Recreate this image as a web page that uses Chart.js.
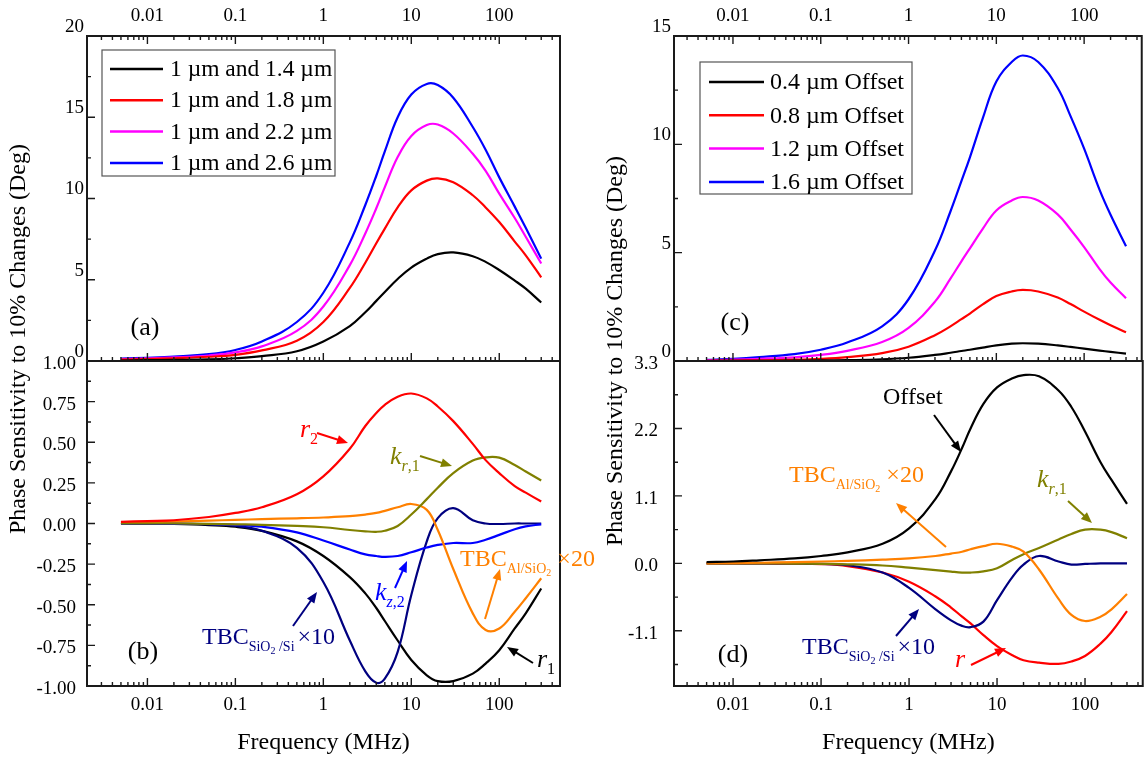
<!DOCTYPE html>
<html>
<head>
<meta charset="utf-8">
<script src="https://cdn.jsdelivr.net/npm/chart.js@4.4.1/dist/chart.umd.min.js"></script>
<style>
  body { margin: 0; background: #fff; }
  #wrap { position: relative; width: 1146px; height: 761px; overflow: hidden; }
  canvas { position: absolute; top: 0; }
</style>
</head>
<body>
<div id="wrap">
  <canvas id="ca" width="598" height="761" style="left:0"></canvas>
  <canvas id="cb" width="598" height="761" style="left:0"></canvas>
  <canvas id="cc" width="548" height="761" style="left:598px"></canvas>
  <canvas id="cd" width="548" height="761" style="left:598px"></canvas>
</div>
<script>
// frequency grid (MHz), shared by every curve
const freq = [0.005, 0.01, 0.02, 0.05, 0.1, 0.2, 0.5, 1, 2, 3, 4, 5, 7, 10, 15, 20, 30, 50, 70, 100, 150, 200, 300];

// (a) sensitivity for two radii
const labelsA = ['1 \u00b5m and 1.4 \u00b5m', '1 \u00b5m and 1.8 \u00b5m', '1 \u00b5m and 2.2 \u00b5m', '1 \u00b5m and 2.6 \u00b5m'];
const a14 = [0.03, 0.05, 0.07, 0.1, 0.17, 0.3, 0.6, 1.2, 2.15, 3.0, 3.7, 4.25, 5.05, 5.75, 6.3, 6.58, 6.68, 6.45, 6.1, 5.6, 4.95, 4.45, 3.6];
const a18 = [0.08, 0.12, 0.17, 0.26, 0.38, 0.65, 1.25, 2.4, 4.5, 6.05, 7.25, 8.15, 9.45, 10.5, 11.1, 11.24, 11.0, 10.2, 9.45, 8.55, 7.35, 6.5, 5.15];
const a22 = [0.12, 0.16, 0.22, 0.34, 0.53, 0.9, 1.85, 3.35, 5.9, 7.85, 9.4, 10.7, 12.55, 13.85, 14.52, 14.55, 14.0, 12.75, 11.7, 10.3, 8.8, 7.65, 6.0];
const a26 = [0.15, 0.2, 0.27, 0.42, 0.68, 1.2, 2.4, 4.2, 7.3, 9.6, 11.4, 12.9, 15.0, 16.4, 17.05, 16.98, 16.2, 14.4, 13.0, 11.3, 9.5, 8.2, 6.3];

// (b) sensitivity to each parameter
const b_r2 = [0.01, 0.015, 0.02, 0.04, 0.065, 0.1, 0.18, 0.29, 0.46, 0.6, 0.68, 0.73, 0.78, 0.8, 0.77, 0.72, 0.63, 0.49, 0.39, 0.31, 0.23, 0.19, 0.135];
const b_kr1 = [0, 0, 0, -0.002, -0.005, -0.008, -0.015, -0.023, -0.04, -0.048, -0.051, -0.045, -0.015, 0.055, 0.15, 0.22, 0.31, 0.387, 0.407, 0.405, 0.36, 0.32, 0.265];
const b_tbcAl = [0.005, 0.008, 0.012, 0.018, 0.022, 0.027, 0.032, 0.037, 0.045, 0.055, 0.065, 0.078, 0.1, 0.12, 0.084, -0.04, -0.28, -0.553, -0.655, -0.646, -0.543, -0.46, -0.337];
const b_kz2 = [0, 0, -0.001, -0.003, -0.008, -0.02, -0.055, -0.105, -0.16, -0.19, -0.2, -0.205, -0.2, -0.177, -0.148, -0.132, -0.12, -0.12, -0.1, -0.07, -0.035, -0.018, -0.005];
const b_tbcSi = [0, 0, -0.001, -0.005, -0.015, -0.045, -0.15, -0.36, -0.72, -0.91, -0.98, -0.955, -0.79, -0.44, -0.11, 0.033, 0.095, 0.02, 0, -0.003, 0, 0, 0];
const b_r1 = [0, -0.001, -0.003, -0.01, -0.02, -0.045, -0.11, -0.2, -0.33, -0.43, -0.52, -0.6, -0.72, -0.84, -0.934, -0.97, -0.97, -0.924, -0.862, -0.78, -0.646, -0.553, -0.4];

// (c) sensitivity for several offsets
const labelsC = ['0.4 \u00b5m Offset', '0.8 \u00b5m Offset', '1.2 \u00b5m Offset', '1.6 \u00b5m Offset'];
const c04 = [0, 0.005, 0.01, 0.015, 0.025, 0.04, 0.08, 0.15, 0.28, 0.38, 0.46, 0.52, 0.62, 0.72, 0.8, 0.82, 0.8, 0.72, 0.65, 0.57, 0.48, 0.42, 0.34];
const c08 = [0.01, 0.02, 0.035, 0.06, 0.1, 0.18, 0.36, 0.66, 1.19, 1.6, 1.93, 2.19, 2.61, 3.0, 3.21, 3.28, 3.21, 2.93, 2.63, 2.28, 1.9, 1.65, 1.33];
const c12 = [0.03, 0.06, 0.1, 0.17, 0.28, 0.47, 0.88, 1.53, 2.74, 3.8, 4.6, 5.2, 6.1, 6.95, 7.41, 7.57, 7.41, 6.77, 6.07, 5.26, 4.24, 3.62, 2.9];
const c16 = [0.05, 0.1, 0.18, 0.32, 0.52, 0.85, 1.6, 2.85, 5.1, 6.9, 8.3, 9.4, 11.2, 12.9, 13.8, 14.1, 13.8, 12.6, 11.3, 9.8, 7.9, 6.75, 5.3];

// (d) sensitivity to each parameter, offset case
const d_offset = [0.02, 0.03, 0.05, 0.08, 0.12, 0.18, 0.32, 0.57, 1.05, 1.5, 1.88, 2.2, 2.6, 2.87, 3.02, 3.07, 3.05, 2.82, 2.55, 2.15, 1.65, 1.36, 0.97];
const d_tbcAl = [0, 0.005, 0.01, 0.02, 0.03, 0.04, 0.06, 0.08, 0.12, 0.16, 0.19, 0.23, 0.28, 0.32, 0.27, 0.19, -0.1, -0.58, -0.84, -0.94, -0.87, -0.75, -0.5];
const d_kr1 = [0, 0, 0, -0.003, -0.008, -0.015, -0.035, -0.07, -0.11, -0.135, -0.15, -0.15, -0.13, -0.08, 0.06, 0.15, 0.25, 0.39, 0.48, 0.55, 0.55, 0.51, 0.41];
const d_tbcSi = [0, 0, 0, -0.002, -0.01, -0.03, -0.15, -0.4, -0.75, -0.93, -1.02, -1.04, -0.95, -0.6, -0.22, -0.02, 0.12, 0.03, -0.02, -0.01, 0, 0, 0];
const d_r = [0, 0, -0.002, -0.005, -0.012, -0.045, -0.15, -0.3, -0.54, -0.72, -0.87, -0.98, -1.17, -1.35, -1.5, -1.58, -1.62, -1.64, -1.6, -1.51, -1.31, -1.12, -0.78];

// tick values and labels
const freqTicks = [0.01, 0.1, 1, 10, 100];
const freqTickLabels = ['0.01', '0.1', '1', '10', '100'];
const yTicksA = [0, 5, 10, 15, 20];
const yLabelsA = ['0', '5', '10', '15', '20'];
const yTicksB = [-1, -0.75, -0.5, -0.25, 0, 0.25, 0.5, 0.75, 1];
const yLabelsB = ['-1.00', '-0.75', '-0.50', '-0.25', '0.00', '0.25', '0.50', '0.75', '1.00'];
const yTicksC = [0, 5, 10, 15];
const yLabelsC = ['0', '5', '10', '15'];
const yTicksD = [-1.1, 0, 1.1, 2.2, 3.3];
const yLabelsD = ['-1.1', '0.0', '1.1', '2.2', '3.3'];

const yTitle = 'Phase Sensitivity to 10% Changes (Deg)';
const xTitle = 'Frequency (MHz)';

const SERIF = '"Liberation Serif", "Times New Roman", serif';
Chart.defaults.font.family = SERIF;
Chart.defaults.font.size = 19;
Chart.defaults.color = '#000';

const OLIVE = '#808000', ORANGE = '#ff8000', NAVY = '#000080';

function setTicks(scale, majors, labels, minors) {
  const t = majors.map((v, i) => ({ value: v, major: true, lbl: labels[i] }))
    .concat(minors.map(v => ({ value: v, major: false, lbl: '' })));
  t.sort((p, q) => p.value - q.value);
  scale.ticks = t;
}

function logMinors(min, max) {
  const out = [];
  for (let d = Math.floor(Math.log10(min)); d <= Math.ceil(Math.log10(max)); d++) {
    for (let k = 2; k <= 9; k++) {
      const v = k * Math.pow(10, d);
      if (v >= min && v <= max) out.push(v);
    }
  }
  return out;
}

function xScale(pos, min, max, h) {
  const majors = freqTicks.filter(v => v >= min && v <= max);
  return {
    type: 'logarithmic', position: pos, min: min, max: max, bounds: 'data',
    grid: { display: false, drawTicks: false }, border: { display: false },
    ticks: { autoSkip: false, maxRotation: 0, minRotation: 0, padding: pos === 'top' ? 9 : 8,
      callback: (v, i, t) => t[i].lbl },
    title: pos === 'bottom' ? { display: true, text: xTitle, font: { size: 24 }, padding: { top: 0, bottom: 4 } } : { display: false },
    afterBuildTicks: s => setTicks(s, majors, majors.map(v => freqTickLabels[freqTicks.indexOf(v)]), logMinors(min, max)),
    afterFit: s => { s.height = h; }
  };
}

function yScale(min, max, majors, labels, pad, off) {
  const step = majors[1] - majors[0];
  const minors = [];
  majors.forEach(m => [m - step / 2, m + step / 2].forEach(v => {
    if (v >= min - 1e-9 && v <= max + 1e-9 && !minors.some(u => Math.abs(u - v) < 1e-9)) minors.push(v);
  }));
  return {
    type: 'linear', position: 'left', min: min, max: max, bounds: 'data',
    grid: { display: false, drawTicks: false }, border: { display: false },
    ticks: { autoSkip: false, padding: pad, labelOffset: off, callback: (v, i, t) => t[i].lbl },
    afterBuildTicks: s => setTicks(s, majors, labels, minors),
    afterFit: s => { s.width = 60; }
  };
}

// frame and inward ticks
const frame = {
  id: 'frame',
  afterDatasetsDraw(chart, args, o) {
    const { ctx, chartArea: a } = chart;
    const x = chart.scales.x, y = chart.scales.y;
    ctx.save();
    ctx.strokeStyle = '#1a1a1a';
    ctx.lineWidth = 1.4;
    ctx.beginPath();
    x.ticks.forEach(t => {
      const px = x.getPixelForValue(t.value);
      const len = t.major ? 8 : 4;
      if (o.xTop) { ctx.moveTo(px, a.top); ctx.lineTo(px, a.top + len); }
      ctx.moveTo(px, a.bottom); ctx.lineTo(px, a.bottom - len);
    });
    y.ticks.forEach(t => {
      const py = y.getPixelForValue(t.value);
      const len = t.major ? 8 : 4;
      ctx.moveTo(a.left, py); ctx.lineTo(a.left + len, py);
    });
    ctx.stroke();
    ctx.lineWidth = 2;
    ctx.strokeRect(a.left, a.top, a.right - a.left, a.bottom - a.top);
    ctx.restore();
  }
};

function arrow(ctx, x0, y0, x1, y1, color) {
  const ang = Math.atan2(y1 - y0, x1 - x0), hl = 11, hw = 4.5;
  const bx = x1 - hl * Math.cos(ang), by = y1 - hl * Math.sin(ang);
  ctx.strokeStyle = color; ctx.fillStyle = color; ctx.lineWidth = 2;
  ctx.beginPath(); ctx.moveTo(x0, y0); ctx.lineTo(bx + 3 * Math.cos(ang), by + 3 * Math.sin(ang)); ctx.stroke();
  ctx.beginPath(); ctx.moveTo(x1, y1);
  ctx.lineTo(bx + hw * Math.sin(ang), by - hw * Math.cos(ang));
  ctx.lineTo(bx - hw * Math.sin(ang), by + hw * Math.cos(ang));
  ctx.closePath(); ctx.fill();
}

function runs(ctx, x, y, list, color) {
  let cx = x;
  ctx.fillStyle = color;
  ctx.textBaseline = 'middle';
  ctx.textAlign = 'left';
  list.forEach(r => {
    ctx.font = (r.i ? 'italic ' : '') + r.s + 'px ' + SERIF;
    cx += r.dx || 0;
    ctx.fillText(r.t, cx, y + (r.dy || 0));
    cx += ctx.measureText(r.t).width;
  });
}
const it = (t, s, dy) => ({ t: t, s: s, dy: dy || 0, i: true });
const up = (t, s, dy, dx) => ({ t: t, s: s, dy: dy || 0, dx: dx || 0 });

// panel letters, annotations, legends, y title (page coordinates)
const notes = {
  id: 'notes',
  afterDraw(chart, args, o) {
    const ctx = chart.ctx, ox = o.offX;
    ctx.save();
    ctx.translate(-ox, 0);
    ctx.fillStyle = '#000';
    ctx.font = '26px ' + SERIF;
    ctx.textAlign = 'center'; ctx.textBaseline = 'middle';
    ctx.fillText(o.panel.t, o.panel.x, o.panel.y);
    (o.items || []).forEach(n => {
      runs(ctx, n.x, n.y, n.runs, n.color);
      if (n.arrow) arrow(ctx, n.arrow[0], n.arrow[1], n.arrow[2], n.arrow[3], n.color);
    });
    if (o.legend) {
      const L = o.legend;
      ctx.strokeStyle = '#555'; ctx.lineWidth = 1.2;
      ctx.strokeRect(L.x, L.y, L.w, L.h);
      chart.data.datasets.forEach((d, i) => {
        const cy = L.y0 + i * L.dy;
        ctx.strokeStyle = d.borderColor; ctx.lineWidth = 2.5;
        ctx.beginPath(); ctx.moveTo(L.lx0, cy); ctx.lineTo(L.lx1, cy); ctx.stroke();
        ctx.fillStyle = '#000'; ctx.font = L.size + 'px ' + SERIF;
        ctx.textAlign = 'left'; ctx.textBaseline = 'middle';
        ctx.fillText(d.label, L.tx, cy + 1);
      });
    }
    if (o.yTitle) {
      ctx.save();
      ctx.translate(o.yTitle.x, o.yTitle.y);
      ctx.rotate(-Math.PI / 2);
      ctx.fillStyle = '#000'; ctx.font = '24px ' + SERIF;
      ctx.textAlign = 'center'; ctx.textBaseline = 'middle';
      ctx.fillText(yTitle, 0, 0);
      ctx.restore();
    }
    ctx.restore();
  }
};

function panel(id, series, scales, pad, frameOpt, noteOpt) {
  return new Chart(document.getElementById(id), {
    type: 'line',
    data: {
      datasets: series.map(s => ({
        label: s.label,
        data: freq.map((f, i) => ({ x: f, y: s.data[i] })),
        borderColor: s.color, borderWidth: 2.2, pointRadius: 0, fill: false,
        tension: 0.4
      }))
    },
    options: {
      responsive: false, animation: false, devicePixelRatio: 1,
      layout: { padding: pad },
      plugins: { legend: { display: false }, tooltip: { enabled: false }, frame: frameOpt, notes: noteOpt },
      scales: scales
    },
    plugins: [frame, notes]
  });
}

const LX = [0.002056, 490.5], RX = [0.00213, 453];

// (a)
panel('ca', [
  { label: labelsA[0], data: a14, color: '#000000' },
  { label: labelsA[1], data: a18, color: '#ff0000' },
  { label: labelsA[2], data: a22, color: '#ff00ff' },
  { label: labelsA[3], data: a26, color: '#0000ff' }
], { x: xScale('top', LX[0], LX[1], 36), y: yScale(0, 20, yTicksA, yLabelsA, 3, -9) },
  { left: 27, right: 38, top: 0, bottom: 400 }, { xTop: true },
  { offX: 0, panel: { t: '(a)', x: 145, y: 328 },
    legend: { x: 102, y: 50, w: 233, h: 126, y0: 69, dy: 31.3, lx0: 110, lx1: 163, tx: 170, size: 23.5 } });

// (b)
panel('cb', [
  { label: 'r2', data: b_r2, color: '#ff0000' },
  { label: 'kr1', data: b_kr1, color: OLIVE },
  { label: 'TBC Al/SiO2 x20', data: b_tbcAl, color: ORANGE },
  { label: 'kz2', data: b_kz2, color: '#0000ff' },
  { label: 'TBC SiO2/Si x10', data: b_tbcSi, color: NAVY },
  { label: 'r1', data: b_r1, color: '#000000' }
], { x: xScale('bottom', LX[0], LX[1], 75), y: yScale(-1, 1, yTicksB, yLabelsB, 11, 3) },
  { left: 27, right: 38, top: 361, bottom: 0 }, { xTop: false },
  { offX: 0, panel: { t: '(b)', x: 143, y: 652 }, yTitle: { x: 19, y: 339 },
    items: [
      { x: 300, y: 430, color: '#ff0000', runs: [it('r', 26), up('2', 16, 10)], arrow: [317, 433, 348, 443] },
      { x: 390, y: 457, color: OLIVE, runs: [it('k', 26), it('r', 16, 10), up(',1', 16, 10)], arrow: [420, 456, 452, 466] },
      { x: 375, y: 593, color: '#0000ff', runs: [it('k', 26), it('z', 16, 10), up(',2', 16, 10)], arrow: [395, 588, 407, 561] },
      { x: 460, y: 560, color: ORANGE, runs: [up('TBC', 24), up('Al/SiO', 14, 9), up('2', 10, 13), up(' \u00d720', 24)], arrow: [485, 619, 500, 569] },
      { x: 202, y: 638, color: NAVY, runs: [up('TBC', 24), up('SiO', 14, 9), up('2', 10, 13), up(' /Si', 14, 9), up('\u00d710', 24, 0, 3)], arrow: [293, 626, 317, 592] },
      { x: 537, y: 660, color: '#000000', runs: [it('r', 26), up('1', 16, 10)], arrow: [533, 663, 507, 647] }
    ] });

// (c)
panel('cc', [
  { label: labelsC[0], data: c04, color: '#000000' },
  { label: labelsC[1], data: c08, color: '#ff0000' },
  { label: labelsC[2], data: c12, color: '#ff00ff' },
  { label: labelsC[3], data: c16, color: '#0000ff' }
], { x: xScale('top', RX[0], RX[1], 36), y: yScale(0, 15, yTicksC, yLabelsC, 3, -9) },
  { left: 16, right: 1, top: 0, bottom: 400 }, { xTop: true },
  { offX: 598, panel: { t: '(c)', x: 735, y: 323 },
    legend: { x: 700, y: 62, w: 212, h: 132, y0: 82, dy: 33.3, lx0: 709, lx1: 764, tx: 770, size: 24 } });

// (d)
panel('cd', [
  { label: 'Offset', data: d_offset, color: '#000000' },
  { label: 'TBC Al/SiO2 x20', data: d_tbcAl, color: ORANGE },
  { label: 'kr1', data: d_kr1, color: OLIVE },
  { label: 'TBC SiO2/Si x10', data: d_tbcSi, color: NAVY },
  { label: 'r', data: d_r, color: '#ff0000' }
], { x: xScale('bottom', RX[0], RX[1], 75), y: yScale(-2.0, 3.3, yTicksD, yLabelsD, 16, 3) },
  { left: 16, right: 1, top: 361, bottom: 0 }, { xTop: false },
  { offX: 598, panel: { t: '(d)', x: 733, y: 655 }, yTitle: { x: 616, y: 351 },
    items: [
      { x: 883, y: 398, color: '#000000', runs: [up('Offset', 24)], arrow: [934, 415, 961, 452] },
      { x: 789, y: 476, color: ORANGE, runs: [up('TBC', 24), up('Al/SiO', 14, 9), up('2', 10, 13), up(' \u00d720', 24)], arrow: [946, 547, 896, 503] },
      { x: 1037, y: 480, color: OLIVE, runs: [it('k', 26), it('r', 16, 10), up(',1', 16, 10)], arrow: [1068, 501, 1092, 523] },
      { x: 802, y: 648, color: NAVY, runs: [up('TBC', 24), up('SiO', 14, 9), up('2', 10, 13), up(' /Si', 14, 9), up('\u00d710', 24, 0, 3)], arrow: [896, 636, 919, 609] },
      { x: 955, y: 660, color: '#ff0000', runs: [it('r', 26)], arrow: [971, 665, 1006, 648] }
    ] });
</script>
</body>
</html>
